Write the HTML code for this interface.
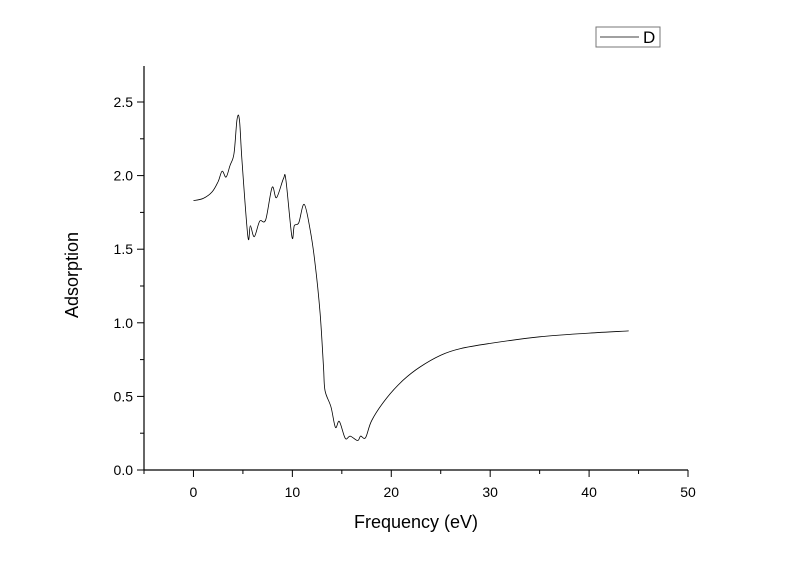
<!DOCTYPE html>
<html><head><meta charset="utf-8"><style>
body{margin:0;background:#fff}
svg text{font-family:"Liberation Sans",Arial,sans-serif;fill:#000}
</style></head><body>
<svg id="chart" width="800" height="565" xmlns="http://www.w3.org/2000/svg">
<g id="axes"></g>
<path id="series" fill="none" stroke="#000" stroke-width="0.8"/>
<g>
<rect x="596" y="27" width="64" height="20" fill="#fff" stroke="#777" stroke-width="1"/>
<line x1="600" y1="37" x2="639" y2="37" stroke="#000" stroke-width="0.8"/>
<text x="643" y="43" font-size="17">D</text>
</g>
<text x="416" y="528" font-size="18" text-anchor="middle">Frequency (eV)</text>
<text transform="translate(78,275) rotate(-90)" font-size="18" text-anchor="middle">Adsorption</text>
</svg>
<script>
const xs=[0,1,1.9,2.5,2.9,3.3,3.7,4.1,4.4,4.65,4.9,5.5,5.75,6.15,6.7,7.3,7.95,8.4,9.1,9.35,9.95,10.2,10.65,11.2,11.8,12.3,12.8,13.15,13.3,13.9,14.35,14.75,15.35,15.85,16.6,16.9,17.4,18.05,19.55,21.2,22.9,25,27,30,35,40,44];
const ys=[1.83,1.845,1.89,1.96,2.03,1.99,2.07,2.15,2.38,2.38,2.11,1.585,1.66,1.585,1.69,1.70,1.92,1.85,1.98,1.97,1.585,1.66,1.68,1.805,1.63,1.40,1.065,0.70,0.54,0.43,0.29,0.33,0.215,0.23,0.20,0.23,0.22,0.34,0.49,0.61,0.70,0.78,0.825,0.86,0.905,0.93,0.945];
const xTicks=[-5,0,5,10,15,20,25,30,35,40,45,50];
const xLabels=["0","10","20","30","40","50"];
const yTicks=[0,0.25,0.5,0.75,1,1.25,1.5,1.75,2,2.25,2.5];
const yLabels=["0.0","0.5","1.0","1.5","2.0","2.5"];
const L=144,R=688,T=66,B=470;
const X=v=>L+(v+5)/55*(R-L);
const Y=v=>B-v*147.2;
const ns="http://www.w3.org/2000/svg";
const g=document.getElementById('axes');
function mk(t,a){const e=document.createElementNS(ns,t);for(const k in a)e.setAttribute(k,a[k]);g.appendChild(e);return e;}
let e=mk('line',{x1:L,y1:B,x2:R,y2:B,stroke:'#000','stroke-width':1.2});


e=mk('line',{x1:L,y1:T,x2:L,y2:B,stroke:'#000','stroke-width':1.2});


xTicks.forEach(v=>{const major=v%10===0;
e=mk('line',{x1:X(v),y1:B,x2:X(v),y2:B+(major?7:4),stroke:'#000','stroke-width':1});

});
xLabels.forEach(s=>{e=mk('text',{x:X(+s),y:B+27,'font-size':14,'text-anchor':'middle'});e.textContent=s;

});
yTicks.forEach(v=>{const major=Math.abs(v*2-Math.round(v*2))<1e-6;
e=mk('line',{x1:L,y1:Y(v),x2:L-(major?7:4),y2:Y(v),stroke:'#000','stroke-width':1});

});
yLabels.forEach(s=>{e=mk('text',{x:L-11,y:Y(+s)+5,'font-size':14,'text-anchor':'end'});e.textContent=s;

});
const P=xs.map((x,i)=>[X(x),Y(ys[i])]);
let d='M'+P[0][0].toFixed(1)+','+P[0][1].toFixed(1);
for(let i=0;i<P.length-1;i++){
  const p0=P[Math.max(0,i-1)],p1=P[i],p2=P[i+1],p3=P[Math.min(P.length-1,i+2)];
  const c1=[p1[0]+(p2[0]-p0[0])/6,p1[1]+(p2[1]-p0[1])/6];
  const c2=[p2[0]-(p3[0]-p1[0])/6,p2[1]-(p3[1]-p1[1])/6];
  d+='C'+c1.map(n=>n.toFixed(1)).join(',')+' '+c2.map(n=>n.toFixed(1)).join(',')+' '+p2.map(n=>n.toFixed(1)).join(',');
}
document.getElementById('series').setAttribute('d',d);
</script>
</body></html>
